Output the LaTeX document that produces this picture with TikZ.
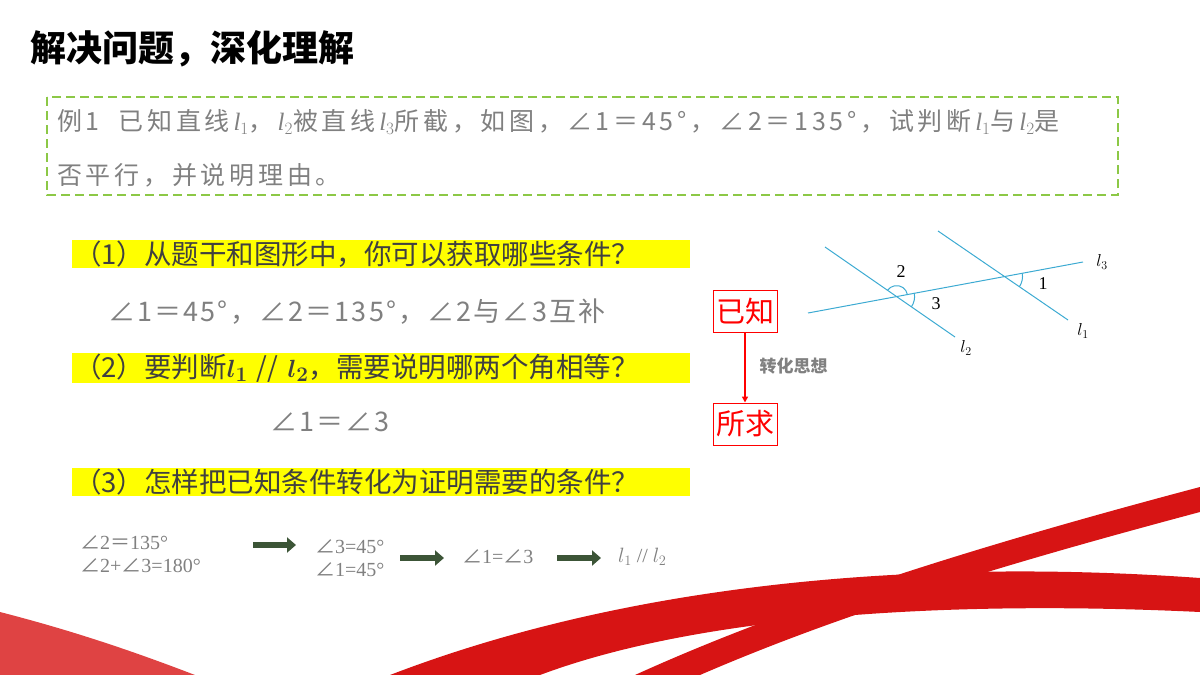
\documentclass[tikz,border=0pt]{standalone}
\usepackage{amsmath,amssymb}
\usepackage{fontspec}
\setmainfont{Liberation Serif}
\newfontfamily\cjk{Noto Sans CJK SC}
\newfontfamily\cjkwide[LetterSpace=15]{Noto Sans CJK SC}
\newcommand{\angsym}{{\cjk ∠}}
\newcommand{\eqsym}{{\cjk ＝}}
\newcommand{\lit}[1]{\textit{\fontspec{Liberation Serif}l}$_{#1}$}
\usetikzlibrary{intersections,arrows.meta,calc}
\definecolor{txtgray}{RGB}{128,128,128}
\definecolor{hlyellow}{RGB}{255,255,0}
\definecolor{boxgreen}{RGB}{140,200,70}
\definecolor{linblue}{RGB}{60,170,210}
\definecolor{arrgreen}{RGB}{60,85,55}
\definecolor{ribred}{RGB}{215,20,20}

\begin{document}
\begin{tikzpicture}[x=1pt, y=1pt,
		stem/.style={font=\cjkwide\fontsize{25}{30}\selectfont, text=txtgray, anchor=west, inner sep=0},
		answer/.style={font=\cjk\fontsize{27}{30}\selectfont\addfontfeatures{LetterSpace=8}, text=txtgray, anchor=west, inner sep=0},
		question/.style={font=\cjk\fontsize{27.5}{30}\selectfont, text=black!75, fill=hlyellow, anchor=west, inner xsep=2pt, inner ysep=1pt, text width=614pt, align=left},
		chain/.style={font=\fontsize{20}{23}\selectfont, text=txtgray, align=left, anchor=west, inner sep=0},
		thick arrow/.style={line width=6pt, arrgreen, -{Triangle[length=9pt, width=15pt]}},
		redbox/.style={draw=red, line width=1pt, text=red, font=\cjk\fontsize{29}{32}\selectfont, inner sep=2pt, minimum width=64pt, minimum height=42pt}]
			\useasboundingbox (0,0) rectangle (1200,-675);
			% ribbons
			\fill[ribred] (1200,-487) .. controls (1000,-540) and (800,-600) .. (635,-675) -- (700,-675) .. controls (850,-610) and (1020,-560) .. (1200,-512) -- cycle;
			\fill[ribred] (390,-675) .. controls (650,-575) and (950,-560) .. (1200,-578) -- (1200,-612) .. controls (950,-600) and (700,-615) .. (540,-675) -- cycle;
			\fill[ribred!80] (0,-612) .. controls (70,-630) and (130,-650) .. (195,-675) -- (0,-675) -- cycle;
			% title and example
			\node (title) [anchor=west, font=\cjk\bfseries\fontsize{36}{40}\selectfont] at (27,-49) {解决问题，深化理解};
			\draw[boxgreen, line width=2.5pt, dash pattern=on 9pt off 5pt] (47,-97) rectangle (1118,-195);
			\node (stem1) [stem] at (57,-122) {例1\ \ 已知直线\lit1，\lit2被直线\lit3所截，如图，∠1＝45°，∠2＝135°，试判断\lit1与\lit2是};
			\node (stem2) [stem] at (57,-175) {否平行，并说明理由。};
			% questions
			\node (q1) [question] at (72,-254) {（1）从题干和图形中，你可以获取哪些条件？};
			\node (a1) [answer] at (108,-312) {∠1＝45°，∠2＝135°，∠2与∠3互补};
			\node (q2) [question] at (72,-368) {（2）要判断$\boldsymbol{l_1}$ // $\boldsymbol{l_2}$，需要说明哪两个角相等？};
			\node (a2) [answer] at (270,-422) {∠1＝∠3};
			\node (q3) [question] at (72,-482) {（3）怎样把已知条件转化为证明需要的条件？};
			% chain
			\node (c1) [chain] at (80,-554) {\angsym2\eqsym135°\\\angsym2+\angsym3=180°};
			\node (c2) [chain] at (315,-558) {\angsym3=45°\\\angsym1=45°};
			\node (c3) [chain] at (462,-557) {\angsym1=\angsym3};
			\node (c4) [chain] at (618,-557) {$l_1$ // $l_2$};
			\draw[thick arrow] (253,-545) -- (296,-545);
			\draw[thick arrow] (400,-558) -- (444,-558);
			\draw[thick arrow] (557,-558) -- (601,-558);
			% known / wanted
			\node (known) [redbox] at (745,-311) {已知};
			\node (wanted) [redbox] at (745,-424) {所求};
			\draw[red, line width=1.5pt, -{Triangle[length=6pt, width=6pt]}] (known) -- (wanted);
			\node (idea) [anchor=west, font=\cjk\bfseries\fontsize{17}{20}\selectfont, text=txtgray] at (756,-366) {转化思想};
			% figure
			\draw[linblue, line width=1pt, name path=l3] (808,-313) -- (1083,-262);
			\draw[linblue, line width=1pt, name path=l2] (825,-247) -- (955,-337);
			\draw[linblue, line width=1pt, name path=l1] (938,-231) -- (1068,-320);
			\path[name intersections={of=l2 and l3, by=p}];
			\path[name intersections={of=l1 and l3, by=q}];
			\draw[linblue, line width=1pt] ($(p)+(10.5:11)$) arc (10.5:145.3:11);
			\draw[linblue, line width=1pt] ($(p)+(-34.7:18)$) arc (-34.7:10.5:18);
			\draw[linblue, line width=1pt] ($(q)+(-34.7:18)$) arc (-34.7:10.5:18);
			\node (n2) [font=\fontsize{18}{20}\selectfont] at (901,-272) {2};
			\node (n3) [font=\fontsize{18}{20}\selectfont] at (936,-304) {3};
			\node (n1) [font=\fontsize{18}{20}\selectfont] at (1043,-284) {1};
			\node (lab3) [font=\fontsize{18}{20}\selectfont] at (1102,-262) {$l_3$};
			\node (lab1) [font=\fontsize{18}{20}\selectfont] at (1083,-331) {$l_1$};
			\node (lab2) [font=\fontsize{18}{20}\selectfont] at (966,-348) {$l_2$};
		\end{tikzpicture}
\end{document}
